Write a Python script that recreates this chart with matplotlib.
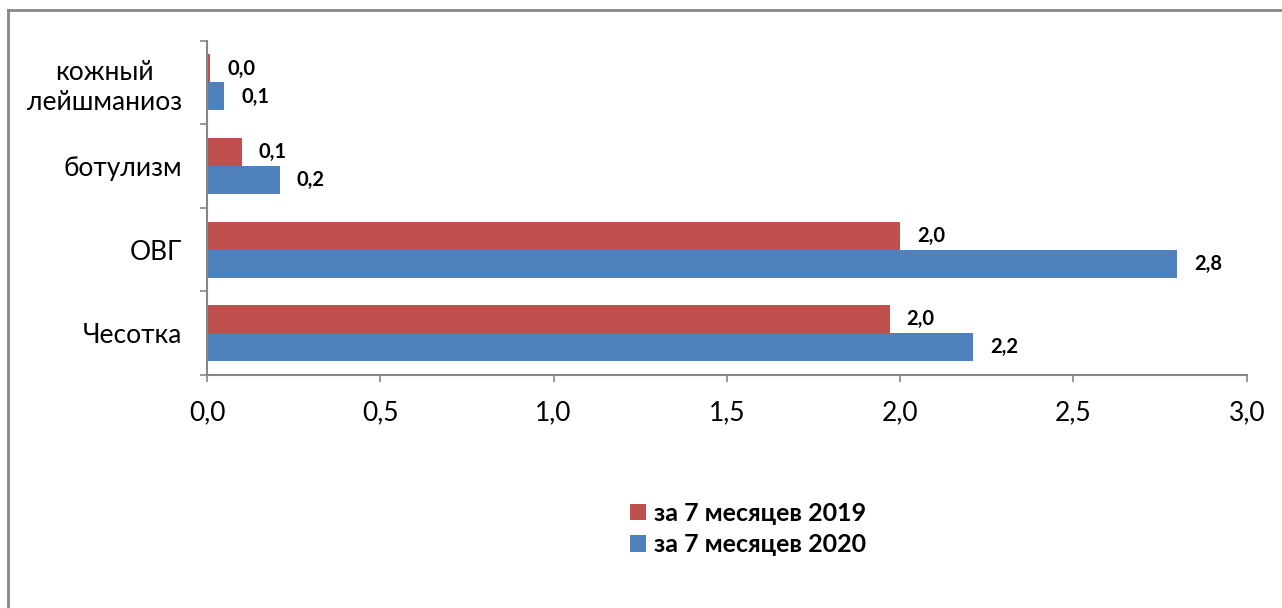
import matplotlib
matplotlib.use("Agg")
import matplotlib.pyplot as plt
from matplotlib.lines import Line2D
import numpy as np

plt.rcParams['font.family'] = ['Lato', 'DejaVu Sans']

categories = ["Чесотка", "ОВГ", "ботулизм", "кожный\nлейшманиоз"]
values_2019 = [1.97, 2.0, 0.1, 0.01]
values_2020 = [2.21, 2.8, 0.21, 0.05]
labels_2019 = ["2,0", "2,0", "0,1", "0,0"]
labels_2020 = ["2,2", "2,8", "0,2", "0,1"]
series_names = ["за 7 месяцев 2019", "за 7 месяцев 2020"]
xticks = [0.0, 0.5, 1.0, 1.5, 2.0, 2.5, 3.0]
xtick_labels = ["0,0", "0,5", "1,0", "1,5", "2,0", "2,5", "3,0"]

red = "#C0504D"
blue = "#4F81BD"
axis_gray = "#868686"

W, H = 1282, 608
fig = plt.figure(figsize=(W / 100, H / 100), dpi=100)
ax = fig.add_axes([207 / W, 1 - 375 / H, (1246.7 - 207) / W, (375 - 40.7) / H])

y = np.arange(len(categories))
h = 0.335
b1 = ax.barh(y + h / 2, values_2019, height=h, color=red, label=series_names[0])
b2 = ax.barh(y - h / 2, values_2020, height=h, color=blue, label=series_names[1])

for bars, labs in ((b1, labels_2019), (b2, labels_2020)):
    for bar, lab in zip(bars, labs):
        ax.annotate(lab, (bar.get_width(), bar.get_y() + bar.get_height() / 2),
                    xytext=(17, 0), textcoords="offset pixels",
                    ha="left", va="center", fontsize=14.5, fontweight="bold")

ax.set_xlim(0, 3.0)
ax.set_ylim(-0.5, len(categories) - 0.5)
ax.set_xticks(xticks)
ax.set_xticklabels(xtick_labels, fontsize=19)
ax.set_yticks(y)
ax.set_yticklabels(categories, fontsize=19, multialignment="center",
                   linespacing=1.25)
ax.tick_params(axis="y", length=0, pad=18)
ax.set_yticks(np.arange(-0.5, len(categories), 1.0), minor=True)
ax.tick_params(axis="y", which="minor", length=5, color=axis_gray, width=1.2)
ax.tick_params(axis="x", length=5, color=axis_gray, width=1.2, pad=13)

for s in ("top", "right"):
    ax.spines[s].set_visible(False)
for s in ("left", "bottom"):
    ax.spines[s].set_color(axis_gray)
    ax.spines[s].set_linewidth(1.5)

handles, labs = ax.get_legend_handles_labels()
leg = fig.legend(handles, labs, loc="center", bbox_to_anchor=(748 / W, 1 - 529 / H),
                 frameon=False, prop={"size": 18, "weight": "bold"},
                 handlelength=0.65, handleheight=0.65, handletextpad=0.3,
                 labelspacing=0.33)

# outer frame (left and top)
fig.add_artist(Line2D([7.5 / W, 7.5 / W], [0, 1 - 9.5 / H], transform=fig.transFigure,
                      color=axis_gray, lw=2))
fig.add_artist(Line2D([7.5 / W, 1], [1 - 9.5 / H, 1 - 9.5 / H], transform=fig.transFigure,
                      color=axis_gray, lw=2))

fig.savefig("out.png", dpi=100)
